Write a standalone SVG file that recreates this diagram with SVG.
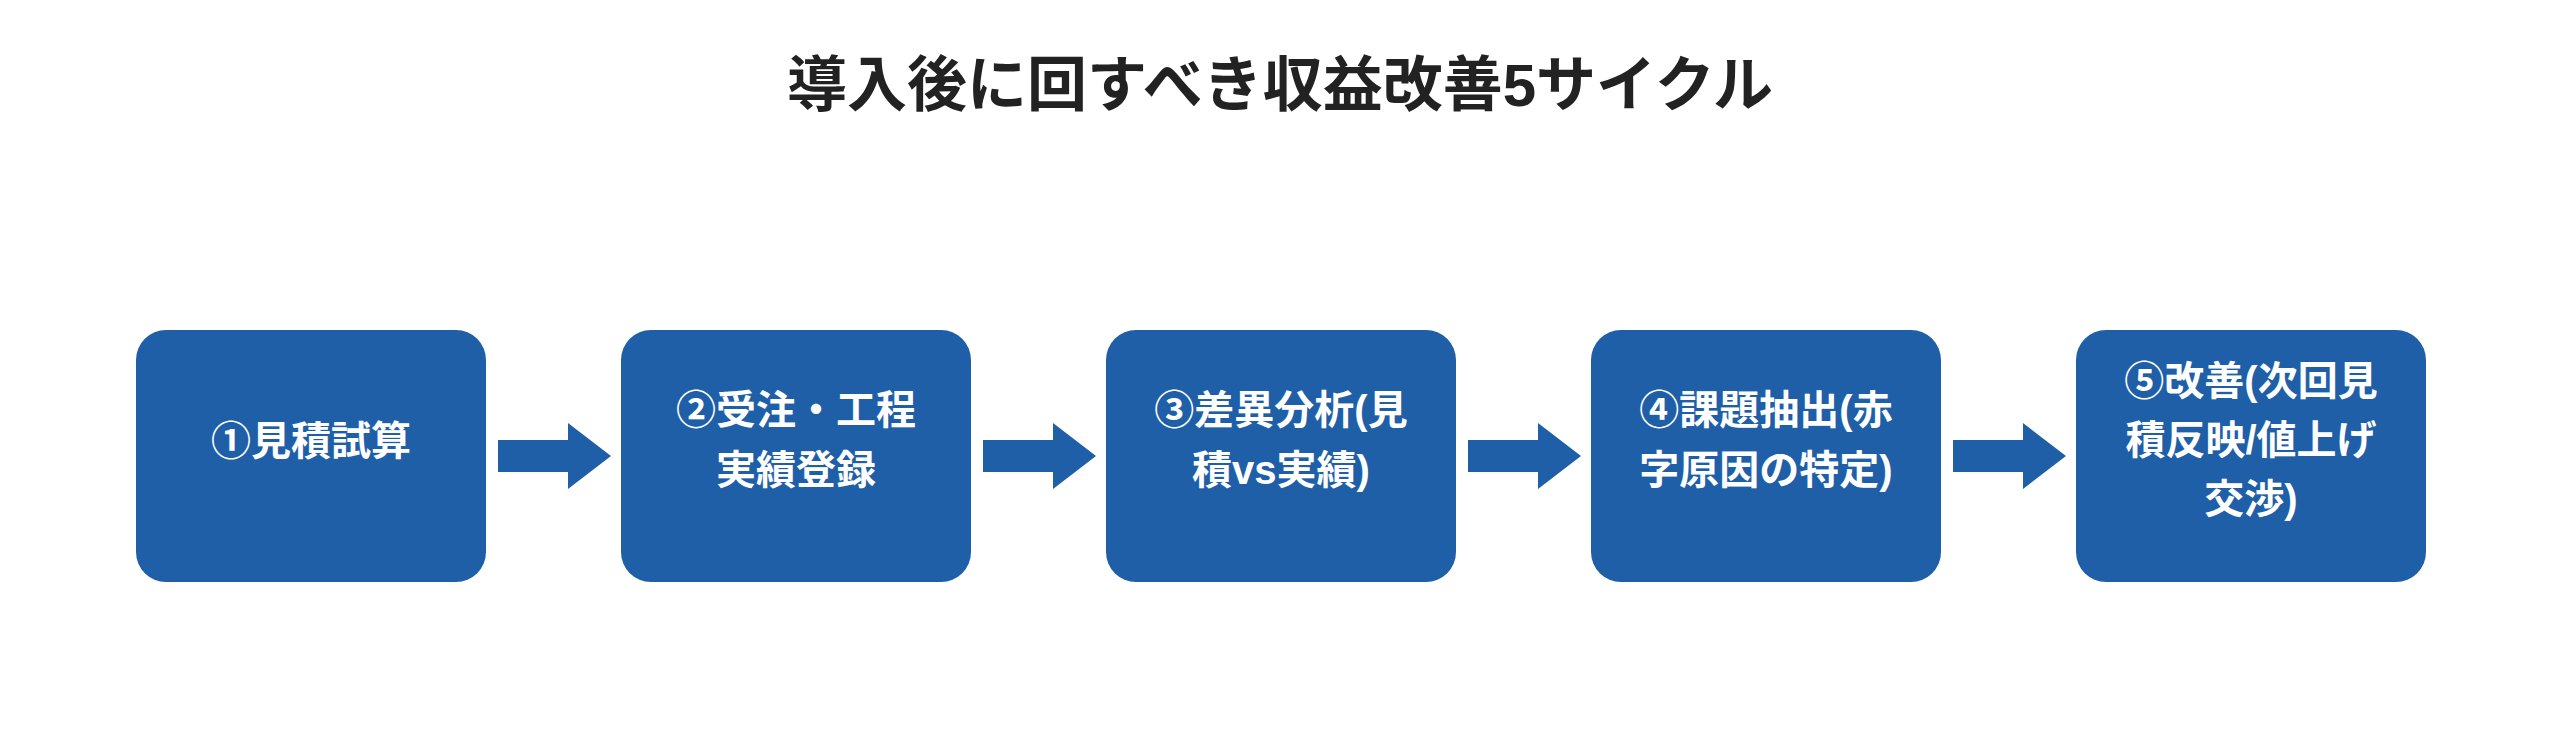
<svg xmlns="http://www.w3.org/2000/svg" width="2560" height="756" viewBox="0 0 2560 756">
<style>
.t{font-family:"Liberation Sans","Noto Sans CJK JP",sans-serif;font-weight:bold;text-anchor:middle}
.n{fill:#1f5fa8}
.l{fill:#fff;font-size:40px}
.a{fill:#1f5fa8}
</style>
<rect width="2560" height="756" fill="#fff"/>
<text class="t" x="1280" y="106" font-size="60" fill="#222">導入後に回すべき収益改善5サイクル</text>
<g id="connectors">
<polygon class="a" points="498,440 568,440 568,423 611,456 568,489 568,472 498,472"/>
<polygon class="a" points="983,440 1053,440 1053,423 1096,456 1053,489 1053,472 983,472"/>
<polygon class="a" points="1468,440 1538,440 1538,423 1581,456 1538,489 1538,472 1468,472"/>
<polygon class="a" points="1953,440 2023,440 2023,423 2066,456 2023,489 2023,472 1953,472"/>
</g>
<g id="n1"><rect class="n" x="136" y="330" width="350" height="252" rx="30"/><text class="t l" x="311" y="455">①見積試算</text></g>
<g id="n2"><rect class="n" x="621" y="330" width="350" height="252" rx="30"/><text class="t l" x="796" y="424">②受注・工程</text><text class="t l" x="796" y="484">実績登録</text></g>
<g id="n3"><rect class="n" x="1106" y="330" width="350" height="252" rx="30"/><text class="t l" x="1281" y="424">③差異分析(見</text><text class="t l" x="1281" y="484">積vs実績)</text></g>
<g id="n4"><rect class="n" x="1591" y="330" width="350" height="252" rx="30"/><text class="t l" x="1766" y="424">④課題抽出(赤</text><text class="t l" x="1766" y="484">字原因の特定)</text></g>
<g id="n5"><rect class="n" x="2076" y="330" width="350" height="252" rx="30"/><text class="t l" x="2251" y="395">⑤改善(次回見</text><text class="t l" x="2251" y="454">積反映/値上げ</text><text class="t l" x="2251" y="513">交渉)</text></g>
</svg>
